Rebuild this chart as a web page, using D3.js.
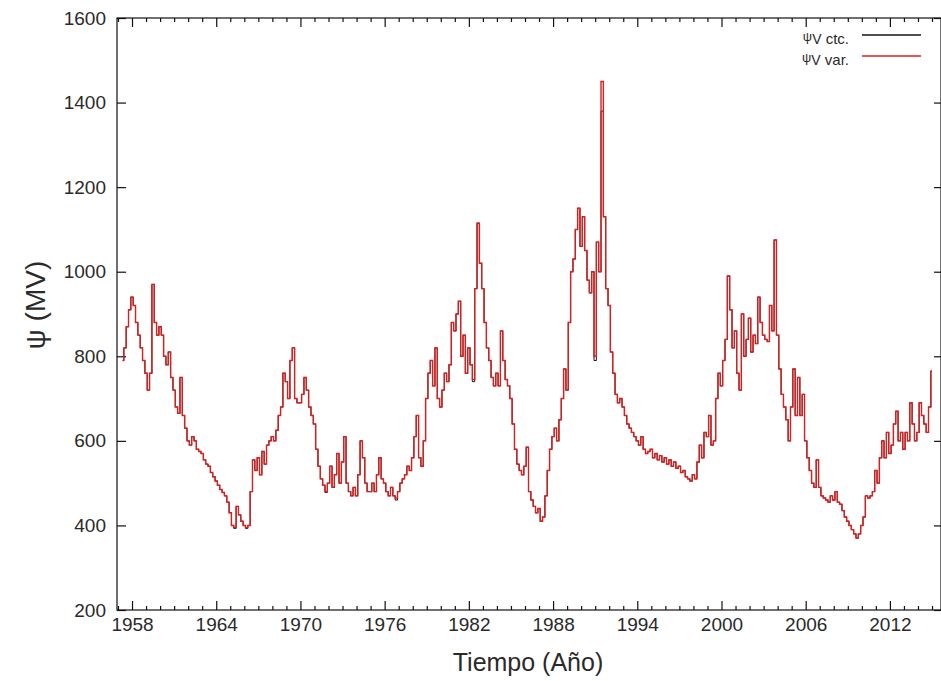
<!DOCTYPE html>
<html>
<head>
<meta charset="utf-8">
<script src="https://cdn.jsdelivr.net/npm/d3@7"></script>
<style>
  html, body { margin: 0; padding: 0; background: #fff; }
  svg { display: block; }
  text { font-family: "Liberation Sans", Arial, Helvetica, sans-serif; fill: #2a2a2a; }
</style>
</head>
<body>
<svg id="chart" width="941" height="681"></svg>
<script>
// Modulation potential, sampled every two months from 1957.33 to 2015.0
const startYear = 1957 + 2 / 6;
const stepYear = 1 / 6;

// variable-parameter series (one row per calendar year)
const psiVar = [
  790, 820, 870, 910,                 // 1957
  940, 920, 880, 850, 820, 790,       // 1958
  760, 720, 760, 970, 880, 850,       // 1959
  870, 850, 800, 780, 810, 750,       // 1960
  720, 680, 665, 750, 660, 630,       // 1961
  600, 590, 610, 600, 580, 575,       // 1962
  570, 555, 545, 540, 525, 515,       // 1963
  505, 495, 485, 478, 470, 455,       // 1964
  430, 400, 395, 445, 425, 410,       // 1965
  400, 395, 400, 480, 555, 530,       // 1966
  560, 520, 575, 545, 590, 600,       // 1967
  610, 600, 625, 660, 680, 760,       // 1968
  740, 700, 790, 820, 700, 690,       // 1969
  690, 710, 750, 720, 680, 660,       // 1970
  640, 580, 540, 510, 495, 480,       // 1971
  500, 540, 490, 520, 570, 500,       // 1972
  550, 610, 500, 480, 470, 490,       // 1973
  470, 520, 600, 560, 500, 480,       // 1974
  480, 500, 480, 520, 560, 510,       // 1975
  500, 480, 470, 490, 470, 465,       // 1976
  480, 500, 510, 520, 540, 530,       // 1977
  560, 610, 660, 560, 540, 600,       // 1978
  700, 760, 790, 730, 820, 700,       // 1979
  680, 720, 760, 740, 780, 880,       // 1980
  860, 900, 930, 800, 850, 760,       // 1981
  820, 780, 745, 960, 1115, 1020,     // 1982
  960, 880, 820, 790, 750, 730,       // 1983
  760, 730, 860, 790, 745, 730,       // 1984
  700, 640, 580, 545, 530, 520,       // 1985
  540, 585, 480, 460, 445, 430,       // 1986
  440, 410, 420, 470, 530, 580,       // 1987
  610, 630, 600, 650, 700, 770,       // 1988
  720, 880, 1000, 1030, 1100, 1150,   // 1989
  1060, 1130, 1050, 980, 950, 1000,   // 1990
  800, 1070, 1000, 1450, 1130, 960,   // 1991
  920, 810, 760, 710, 690, 700,       // 1992
  680, 660, 640, 630, 620, 610,       // 1993
  600, 590, 610, 580, 570, 575,       // 1994
  580, 560, 570, 555, 565, 550,       // 1995
  560, 545, 555, 540, 550, 535,       // 1996
  540, 525, 530, 515, 510, 505,       // 1997
  520, 510, 550, 590, 560, 620,       // 1998
  610, 660, 590, 600, 700, 760,       // 1999
  730, 790, 840, 990, 910, 820,       // 2000
  860, 760, 720, 900, 800, 840,       // 2001
  890, 810, 850, 830, 940, 880,       // 2002
  850, 840, 835, 920, 860, 1075,      // 2003
  850, 770, 710, 680, 650, 600,       // 2004
  680, 770, 660, 750, 660, 710,       // 2005
  600, 560, 530, 500, 490, 555,       // 2006
  490, 470, 465, 460, 455, 470,       // 2007
  460, 480, 455, 450, 435, 420,       // 2008
  410, 400, 390, 380, 370, 380,       // 2009
  400, 420, 470, 465, 470, 480,       // 2010
  530, 500, 560, 600, 560, 620,       // 2011
  570, 590, 640, 670, 600, 620,       // 2012
  580, 620, 600, 690, 640, 600,       // 2013
  620, 690, 660, 640, 620, 680,       // 2014
  765                                 // 2015
];

// constant-parameter series (almost everywhere hidden under the variable one)
const psiCtc = [
  790, 820, 870, 910,                 // 1957
  940, 920, 880, 850, 820, 790,       // 1958
  760, 720, 760, 970, 880, 850,       // 1959
  870, 850, 800, 780, 810, 750,       // 1960
  720, 680, 665, 750, 660, 630,       // 1961
  600, 590, 610, 600, 580, 575,       // 1962
  570, 555, 545, 540, 525, 515,       // 1963
  505, 495, 485, 478, 470, 455,       // 1964
  430, 400, 393, 445, 425, 410,       // 1965
  400, 393, 400, 480, 555, 530,       // 1966
  560, 520, 575, 545, 590, 600,       // 1967
  610, 600, 625, 660, 680, 760,       // 1968
  740, 700, 790, 820, 700, 690,       // 1969
  690, 710, 750, 720, 680, 660,       // 1970
  640, 580, 540, 510, 495, 478,       // 1971
  500, 540, 490, 520, 570, 500,       // 1972
  550, 610, 500, 480, 470, 490,       // 1973
  470, 520, 600, 560, 500, 480,       // 1974
  480, 500, 480, 520, 560, 510,       // 1975
  500, 480, 470, 490, 470, 460,       // 1976
  480, 500, 510, 520, 540, 530,       // 1977
  560, 610, 660, 560, 540, 600,       // 1978
  700, 760, 790, 730, 820, 700,       // 1979
  680, 720, 760, 740, 780, 880,       // 1980
  860, 900, 930, 800, 850, 760,       // 1981
  820, 780, 740, 960, 1115, 1020,     // 1982
  960, 880, 820, 790, 750, 730,       // 1983
  760, 730, 860, 790, 745, 730,       // 1984
  700, 640, 580, 545, 530, 520,       // 1985
  540, 585, 480, 460, 445, 430,       // 1986
  440, 410, 420, 470, 530, 580,       // 1987
  610, 630, 600, 650, 700, 770,       // 1988
  720, 880, 1000, 1030, 1100, 1150,   // 1989
  1060, 1130, 1050, 980, 950, 1000,   // 1990
  790, 1070, 1000, 1380, 1130, 960,   // 1991
  920, 810, 760, 710, 690, 700,       // 1992
  680, 660, 640, 630, 620, 610,       // 1993
  600, 590, 610, 580, 570, 575,       // 1994
  580, 560, 570, 555, 565, 550,       // 1995
  560, 545, 555, 540, 550, 535,       // 1996
  540, 525, 530, 515, 510, 505,       // 1997
  520, 510, 550, 590, 560, 620,       // 1998
  610, 660, 590, 600, 700, 760,       // 1999
  730, 790, 840, 990, 910, 820,       // 2000
  860, 760, 720, 900, 800, 840,       // 2001
  890, 810, 850, 830, 940, 880,       // 2002
  850, 840, 835, 920, 860, 1075,      // 2003
  850, 770, 710, 680, 650, 600,       // 2004
  680, 770, 660, 750, 660, 710,       // 2005
  600, 560, 530, 500, 490, 555,       // 2006
  490, 470, 465, 460, 455, 470,       // 2007
  460, 480, 455, 450, 435, 420,       // 2008
  410, 400, 390, 380, 370, 380,       // 2009
  400, 420, 470, 465, 470, 480,       // 2010
  530, 500, 560, 600, 560, 620,       // 2011
  570, 590, 640, 670, 600, 620,       // 2012
  580, 620, 600, 690, 640, 600,       // 2013
  620, 690, 660, 640, 620, 680,       // 2014
  765                                 // 2015
];

const xMajorTicks = [1958, 1964, 1970, 1976, 1982, 1988, 1994, 2000, 2006, 2012];
const yTicks = [200, 400, 600, 800, 1000, 1200, 1400, 1600];
const seriesLabels = [
  { sym: "ψ", sub: "V", tail: " ctc.", color: "#151515" },
  { sym: "ψ", sub: "V", tail: " var.", color: "#d81f1f" }
];

const svg = d3.select("#chart");
const plotLeft = 117, plotRight = 941, plotTop = 18, plotBottom = 610;

const x = d3.scaleLinear().domain([1956.93, 2015.64]).range([plotLeft, plotRight]);
const y = d3.scaleLinear().domain([200, 1600]).range([plotBottom, plotTop]);

const toPoints = arr => arr.map((v, i) => [startYear + i * stepYear, v]);
const line = d3.line().curve(d3.curveStep).x(d => x(d[0])).y(d => y(d[1]));

// plot frame
svg.append("rect")
  .attr("x", plotLeft).attr("y", plotTop)
  .attr("width", plotRight - plotLeft).attr("height", plotBottom - plotTop)
  .attr("fill", "none").attr("stroke", "#111").attr("stroke-width", 1.2);

// minor year ticks on bottom and top
const minorYears = d3.range(1957, 2016).filter(v => !xMajorTicks.includes(v));
const stripDomain = g => g.select(".domain").remove();

svg.append("g").attr("transform", `translate(0,${plotBottom})`)
  .call(d3.axisBottom(x).tickValues(minorYears).tickSize(-4).tickFormat(""))
  .call(stripDomain);
svg.append("g").attr("transform", `translate(0,${plotTop})`)
  .call(d3.axisTop(x).tickValues(minorYears).tickSize(-4).tickFormat(""))
  .call(stripDomain);

// major x ticks
const xAxis = svg.append("g").attr("transform", `translate(0,${plotBottom})`)
  .call(d3.axisBottom(x).tickValues(xMajorTicks).tickSize(-9).tickPadding(8).tickFormat(d3.format("d")))
  .call(stripDomain);
svg.append("g").attr("transform", `translate(0,${plotTop})`)
  .call(d3.axisTop(x).tickValues(xMajorTicks).tickSize(-9).tickFormat(""))
  .call(stripDomain);

// y ticks on left and right
const yAxis = svg.append("g").attr("transform", `translate(${plotLeft},0)`)
  .call(d3.axisLeft(y).tickValues(yTicks).tickSize(-9).tickPadding(11).tickFormat(d3.format("d")))
  .call(stripDomain);
svg.append("g").attr("transform", `translate(${plotRight},0)`)
  .call(d3.axisRight(y).tickValues(yTicks).tickSize(-7).tickFormat(""))
  .call(stripDomain);

svg.selectAll(".tick line").attr("stroke", "#111").attr("stroke-width", 1.2);
xAxis.selectAll("text").attr("font-size", 19).attr("fill", "#2a2a2a");
yAxis.selectAll("text").attr("font-size", 19).attr("fill", "#2a2a2a");
svg.selectAll(".tick text").attr("font-family", "'Liberation Sans', Arial, sans-serif");

// series: constant first, variable drawn over it
svg.append("path")
  .datum(toPoints(psiCtc))
  .attr("d", line)
  .attr("fill", "none").attr("stroke", seriesLabels[0].color).attr("stroke-width", 1.0);
svg.append("path")
  .datum(toPoints(psiVar))
  .attr("d", line)
  .attr("fill", "none").attr("stroke", seriesLabels[1].color).attr("stroke-width", 1.4);

// axis titles
svg.append("text")
  .attr("transform", "translate(45,305) rotate(-90)")
  .attr("text-anchor", "middle")
  .attr("font-size", 28)
  .text("ψ (MV)");
svg.append("text")
  .attr("x", 528).attr("y", 671)
  .attr("text-anchor", "middle")
  .attr("font-size", 25)
  .text("Tiempo (Año)");

// legend
const legend = svg.append("g");
seriesLabels.forEach((s, i) => {
  const ly = 35 + i * 21;
  const t = legend.append("text")
    .attr("x", 849).attr("y", ly + 9)
    .attr("text-anchor", "end")
    .attr("font-size", 15);
  t.append("tspan").attr("font-size", 13).attr("dy", -3).text(s.sym);
  t.append("tspan").attr("font-size", 14).attr("dy", 3).text(s.sub);
  t.append("tspan").attr("font-size", 15).text(s.tail);
  legend.append("line")
    .attr("x1", 862).attr("x2", 921)
    .attr("y1", ly).attr("y2", ly)
    .attr("stroke", s.color).attr("stroke-width", 1.5);
});
</script>
</body>
</html>
